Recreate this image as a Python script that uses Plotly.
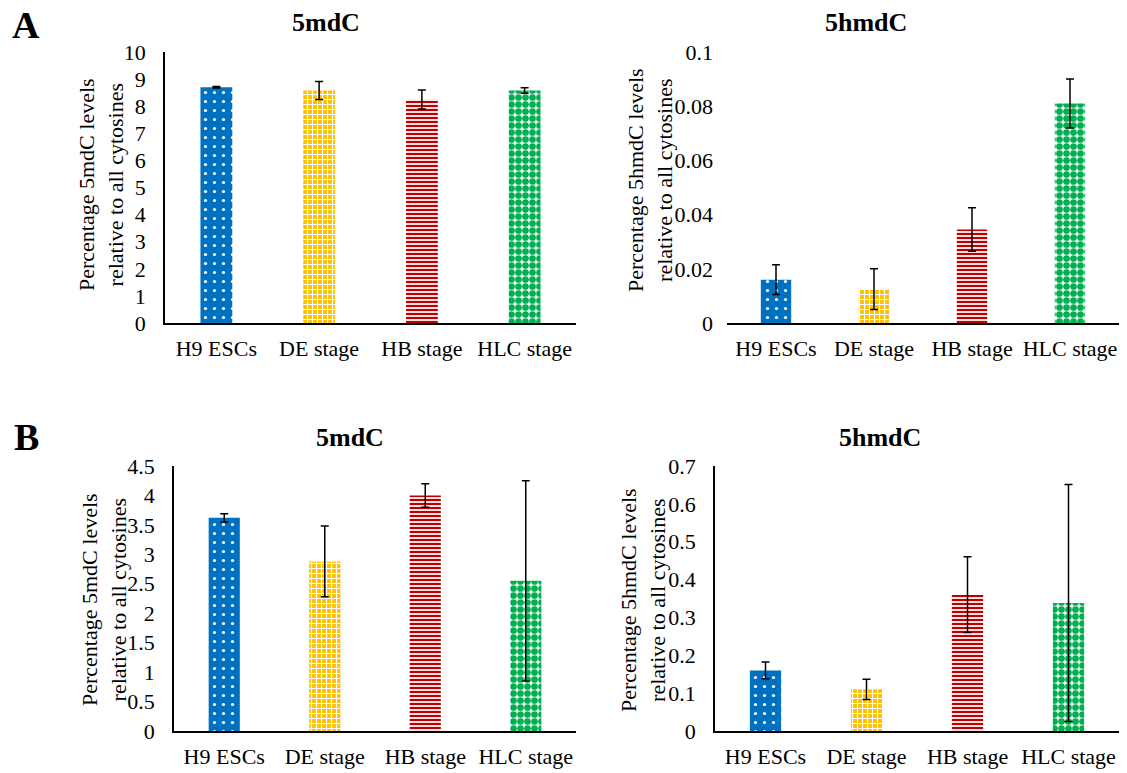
import plotly.graph_objects as go

categories = ["H9 ESCs", "DE stage", "HB stage", "HLC stage"]

a_5mdc = [8.70, 8.58, 8.25, 8.58]
a_5mdc_err = [0.03, 0.33, 0.35, 0.10]
a_5hmdc = [0.016, 0.0125, 0.0345, 0.081]
a_5hmdc_err = [0.0055, 0.0075, 0.008, 0.009]
b_5mdc = [3.62, 2.88, 4.00, 2.55]
b_5mdc_err = [0.07, 0.60, 0.20, 1.70]
b_5hmdc = [0.16, 0.11, 0.36, 0.338]
b_5hmdc_err = [0.022, 0.027, 0.10, 0.313]

colors_fg = ["white", "white", "#C00000", "#00B050"]
colors_bg = ["#0070C0", "#FFC000", "#FBE3E3", "white"]
shapes = [".", "+", "-", "."]
sizes = [9, 5, 4, 7]
solid = [0.1, 0.4, 0.5, 0.72]

FONT = "Liberation Serif, Times New Roman, serif"
FS = 22
W, H = 1127, 773

fig = go.Figure()

panels = [
    (a_5mdc, a_5mdc_err, "x", "y", [0, 10], 1),
    (a_5hmdc, a_5hmdc_err, "x2", "y2", [0, 0.1], 0.02),
    (b_5mdc, b_5mdc_err, "x3", "y3", [0, 4.5], 0.5),
    (b_5hmdc, b_5hmdc_err, "x4", "y4", [0, 0.7], 0.1),
]

for vals, errs, xa, ya, rng, dt in panels:
    for j, cat in enumerate(categories):
        fig.add_trace(go.Bar(
            x=[cat], y=[vals[j]], xaxis=xa, yaxis=ya, width=0.31,
            marker=dict(
                color=colors_bg[j],
                line=dict(width=0),
                pattern=dict(shape=shapes[j], fgcolor=colors_fg[j], bgcolor=colors_bg[j],
                             size=sizes[j], solidity=solid[j], fillmode="replace"),
            ),
            error_y=dict(type="data", array=[errs[j]], visible=True, color="black",
                         thickness=1.5, width=4),
            showlegend=False,
        ))

# pixel boxes (left, right, top, bottom) of each plot area
boxes = [(165, 576, 52, 323), (727, 1119, 52, 323), (174, 576, 466, 731), (715, 1119, 466, 731)]
show_yline = [True, False, True, True]

layout = dict(
    width=W, height=H,
    margin=dict(l=0, r=0, t=0, b=0, autoexpand=False),
    paper_bgcolor="white", plot_bgcolor="white",
    font=dict(family=FONT, size=FS, color="black"),
    barmode="overlay",
)
for i, (vals, errs, xa, ya, rng, dt) in enumerate(panels):
    xk = "xaxis" if i == 0 else f"xaxis{i+1}"
    yk = "yaxis" if i == 0 else f"yaxis{i+1}"
    l, r, t, b = boxes[i]
    layout[xk] = dict(domain=[l / W, r / W], anchor=ya, showline=True, linecolor="black",
                      linewidth=1.5, ticks="", showgrid=False, ticklabelstandoff=5,
                      automargin=False,
                      categoryorder="array", categoryarray=categories,
                      tickfont=dict(family=FONT, size=FS))
    layout[yk] = dict(domain=[1 - b / H, 1 - t / H], anchor=xa, range=rng, dtick=dt,
                      showline=show_yline[i], linecolor="black", linewidth=1.5,
                      ticks="", showgrid=False, zeroline=False, ticklabelstandoff=13,
                      automargin=False,
                      tickfont=dict(family=FONT, size=FS))
fig.update_layout(**layout)

ann = []
titles = [("5mdC", 326, 23), ("5hmdC", 866, 23), ("5mdC", 350, 437), ("5hmdC", 880, 437)]
for t, px, py in titles:
    ann.append(dict(text=f"<b>{t}</b>", x=px / W, y=1 - py / H, xref="paper", yref="paper",
                    xanchor="center", yanchor="middle",
                    showarrow=False, font=dict(family=FONT, size=26)))
for t, px, py in [("A", 26, 25), ("B", 26, 437)]:
    ann.append(dict(text=f"<b>{t}</b>", x=px / W, y=1 - py / H, xref="paper", yref="paper",
                    xanchor="center", yanchor="middle",
                    showarrow=False, font=dict(family=FONT, size=38)))
ytitles = [("5mdC", 101, 185), ("5hmdC", 650, 180), ("5mdC", 104, 600), ("5hmdC", 643, 600)]
for t, px, py in ytitles:
    ann.append(dict(text=f"Percentage {t} levels<br>relative to all cytosines", x=px / W,
                    y=1 - py / H, xref="paper", yref="paper", showarrow=False, textangle=-90,
                    xanchor="center", yanchor="middle",
                    font=dict(family=FONT, size=FS)))
fig.update_layout(annotations=ann)

fig.write_html("out.html")
